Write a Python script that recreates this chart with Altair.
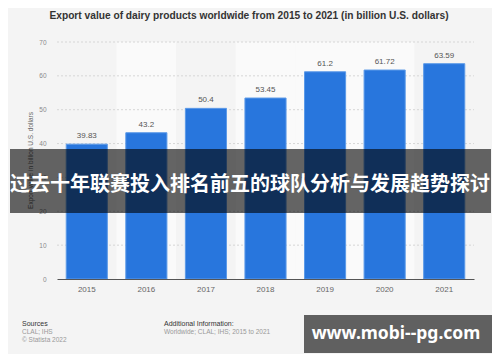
import altair as alt
import pandas as pd

years = ["2015", "2016", "2017", "2018", "2019", "2020", "2021"]
values = [39.83, 43.2, 50.4, 53.45, 61.2, 61.72, 63.59]
value_labels = ["39.83", "43.2", "50.4", "53.45", "61.2", "61.72", "63.59"]
band_shade = [0, 1, 0, 1, 1, 1, 0]
y_ticks = [0, 10, 20, 30, 40, 50, 60, 70]
grid_ticks = [10, 20, 30, 40, 50, 60, 70]

title_text = "Export value of dairy products worldwide from 2015 to 2021 (in billion U.S. dollars)"
y_title_text = "Export value in billion U.S. dollars"
banner_text = "过去十年联赛投入排名前五的球队分析与发展趋势探讨"
watermark_text = "www.mobi--pg.com"
sources_head = "Sources"
sources_lines = ["CLAL; IHS", "© Statista 2022"]
info_head = "Additional Information:"
info_lines = ["Worldwide; CLAL; IHS; 2015 to 2021"]

W, H = 417, 237

df = pd.DataFrame({"year": years, "value": values, "label": value_labels, "shade": band_shade})
grid_df = pd.DataFrame({"v": grid_ticks})

xscale = alt.Scale(domain=years, paddingInner=0, paddingOuter=0)
yscale = alt.Scale(domain=[0, 70], nice=False, zero=True)

x_axis = alt.Axis(title=None, ticks=False, labelAngle=0, labelFontSize=8,
                  labelColor="#666666", labelPadding=6, domainColor="#555555",
                  domainWidth=1, grid=False, zindex=1, labelFont="Liberation Sans")
y_axis = alt.Axis(title=None, values=y_ticks, ticks=False, domain=False, grid=False,
                  labelFontSize=6.5, labelColor="#8a8a8a", labelPadding=11,
                  labelFont="Liberation Sans", zindex=0, labelOverlap=False,
                  labelFlush=False, labelBound=False)

x_enc = alt.X("year:N", scale=xscale, sort=years, axis=x_axis)

bands = alt.Chart(df).mark_rect().encode(
    x=x_enc,
    y=alt.value(0), y2=alt.value(H),
    color=alt.Color("shade:N", scale=alt.Scale(domain=[0, 1], range=["#f4f4f4", "#fafafa"]), legend=None),
)

grid = alt.Chart(grid_df).mark_rule(color="#d6d6d6", strokeDash=[2, 2], strokeWidth=1).encode(
    y=alt.Y("v:Q", scale=yscale, axis=y_axis),
    x=alt.value(0), x2=alt.value(W),
)

bars = alt.Chart(df).mark_bar(width=alt.RelativeBandSize(0.69), color="#2876dd",
                              stroke="#5c9ae8", strokeWidth=1).encode(
    x=x_enc,
    y=alt.Y("value:Q", scale=yscale, axis=y_axis),
)

value_text = alt.Chart(df).mark_text(baseline="bottom", dy=-4, fontSize=8, color="#555555",
                                     font="Liberation Sans").encode(
    x=x_enc,
    y=alt.Y("value:Q", scale=yscale, axis=y_axis),
    text="label:N",
)

def txt(t, x, y, **kw):
    return alt.Chart(pd.DataFrame({"t": [t]})).mark_text(**kw).encode(
        x=alt.value(x), y=alt.value(y), text="t:N")

title = txt(title_text, 192, -26, fontSize=10.2, fontWeight="bold", color="#333333",
            font="Liberation Sans", align="center", baseline="middle")
ytitle = txt(y_title_text, -26, 118.5, fontSize=6.5, color="#666666", angle=270,
             font="Liberation Sans", align="center", baseline="middle")

banner = alt.Chart(pd.DataFrame({"t": [banner_text]})).mark_rect(color="#000000", opacity=0.6).encode(
    x=alt.value(-47), x2=alt.value(434), y=alt.value(107), y2=alt.value(171))
banner_t = txt(banner_text, 193, 143, fontSize=20, fontWeight="bold", color="#ffffff",
               font="Noto Sans CJK SC", align="center", baseline="middle")

box = alt.Chart(pd.DataFrame({"t": [watermark_text]})).mark_rect(color="#606060").encode(
    x=alt.value(247), x2=alt.value(435), y=alt.value(273), y2=alt.value(311))
box_t = txt(watermark_text, 339, 292, fontSize=17.5, fontWeight="bold", color="#ffffff",
            font="Noto Sans", align="center", baseline="middle")

src_h = txt(sources_head, -35, 282, fontSize=7, color="#333333", font="Liberation Sans",
            align="left", baseline="middle")
src_1 = txt(sources_lines[0], -35, 290, fontSize=6.5, color="#999999", font="Liberation Sans",
            align="left", baseline="middle")
src_2 = txt(sources_lines[1], -35, 297.5, fontSize=6.5, color="#999999", font="Liberation Sans",
            align="left", baseline="middle")
inf_h = txt(info_head, 107, 282, fontSize=7, color="#333333", font="Liberation Sans",
            align="left", baseline="middle")
inf_1 = txt(info_lines[0], 107, 290, fontSize=6.5, color="#999999", font="Liberation Sans",
            align="left", baseline="middle")

chart = alt.layer(
    bands, grid, bars, value_text, title, ytitle, banner, banner_t, box, box_t,
    src_h, src_1, src_2, inf_h, inf_1,
).resolve_scale(color="independent").properties(
    width=W, height=H,
    autosize=alt.AutoSizeParams(type="none"),
    padding={"left": 49, "top": 34, "right": 18, "bottom": 75},
).configure(background="#f4f4f4").configure_view(stroke=None)

chart.save("out.html", embed_options={"renderer": "svg", "actions": False})
